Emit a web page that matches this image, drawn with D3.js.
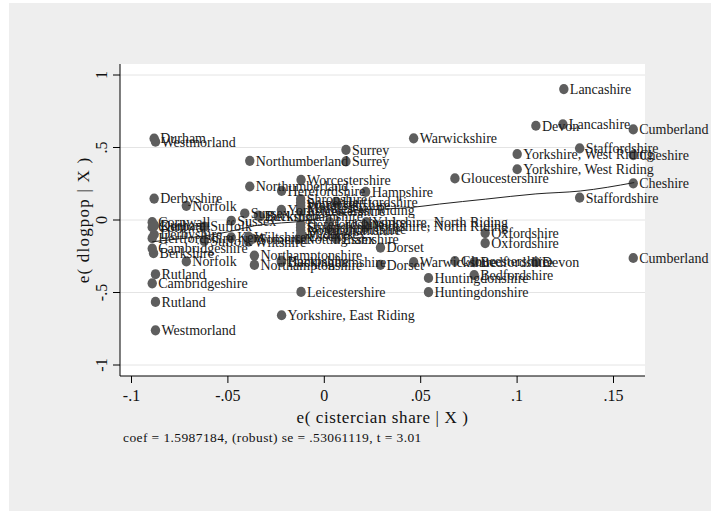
<!DOCTYPE html>
<html><head><meta charset="utf-8">
<script src="https://cdn.jsdelivr.net/npm/d3@7"></script>
<style>body{margin:0;background:#fff}</style></head>
<body>
<svg id="c" width="711" height="511"></svg>
<script>
const names = [
"Lancashire","Devon","Lancashire","Cumberland","Warwickshire","Staffordshire","Yorkshire, West Riding","Cheshire",
"Yorkshire, West Riding","Gloucestershire","Cheshire","Staffordshire","Cumberland","Oxfordshire","Oxfordshire",
"Warwickshire","Gloucestershire","Bedfordshire","Devon","Huntingdonshire","Bedfordshire","Huntingdonshire",
"Dorset","Dorset","Leicestershire","Yorkshire, East Riding","Westmorland","Rutland","Rutland","Cambridgeshire",
"Norfolk","Berkshire","Cambridgeshire","Derbyshire","Norfolk","Durham","Westmorland","Northumberland",
"Northumberland","Surrey","Surrey","Worcestershire","Herefordshire","Hampshire","Derbyshire",
"Cornwall","Durham","Cornwall","Kent","Hertfordshire","Suffolk","Suffolk","Sussex","Kent","Sussex",
"Buckinghamshire","Berkshire","Wiltshire","Wiltshire","Somerset","Northamptonshire","Northamptonshire",
"Hampshire","Buckinghamshire","Yorkshire, East Riding","Shropshire","Somerset","Worcestershire","Middlesex",
"Leicestershire","Shropshire","Nottinghamshire","Middlesex","Herefordshire","Lincolnshire","Lincolnshire",
"Hertfordshire","Essex","Yorkshire, North Riding","Yorkshire, North Riding","Nottinghamshire","Essex"
];
const xs = [
0.1245,0.110,0.124,0.1605,0.0466,0.1327,0.1003,0.1605,
0.1003,0.068,0.1605,0.1327,0.1605,0.0837,0.0837,
0.0466,0.068,0.078,0.110,0.0543,0.078,0.0543,
0.0294,0.0294,-0.0118,-0.0219,-0.0873,-0.0873,-0.0873,-0.089,
-0.0713,-0.0883,-0.089,-0.088,-0.0713,-0.088,-0.0873,-0.0384,
-0.0384,0.0115,0.0115,-0.0118,-0.0219,0.0217,-0.088,
-0.089,-0.088,-0.089,-0.088,-0.089,-0.062,-0.062,-0.048,-0.048,-0.041,
-0.034,-0.033,-0.039,-0.039,-0.037,-0.036,-0.036,
-0.022,-0.022,-0.022,-0.012,-0.012,-0.012,-0.012,
-0.012,-0.012,-0.012,-0.012,-0.012,0.003,0.003,
0.0065,0.0065,0.022,0.022,-0.013,-0.011
];
const ys = [
0.903,0.65,0.66,0.625,0.563,0.494,0.455,0.448,
0.35,0.287,0.253,0.154,-0.262,-0.09,-0.159,
-0.29,-0.283,-0.29,-0.29,-0.40,-0.38,-0.497,
-0.19,-0.309,-0.496,-0.657,-0.761,-0.565,-0.374,-0.437,
-0.286,-0.229,-0.197,0.148,0.098,0.562,0.540,0.408,
0.231,0.484,0.404,0.277,0.201,0.194,-0.10,
-0.015,-0.035,-0.05,-0.04,-0.125,-0.045,-0.145,-0.005,-0.12,0.045,
0.03,0.025,-0.115,-0.15,-0.13,-0.245,-0.31,
-0.28,-0.29,0.07,0.145,0.12,0.10,0.08,
0.06,-0.05,-0.07,-0.10,-0.03,-0.015,-0.065,
0.125,-0.13,-0.015,-0.045,-0.13,-0.11
];
const xTicks = [-0.1,-0.05,0,0.05,0.1,0.15];
const xTickLabels = ["-.1","-.05","0",".05",".1",".15"];
const yTicks = [-1,-0.5,0,0.5,1];
const yTickLabels = ["-1","-.5","0",".5","1"];
const fitX = [-0.089,-0.075,-0.062,-0.049,-0.036,-0.022,-0.012,0.0,0.01,0.022,0.03,0.045,0.06,0.084,0.11,0.133,0.161];
const fitY = [-0.15,-0.13,-0.11,-0.08,-0.04,-0.02,-0.01,0.02,0.05,0.07,0.075,0.086,0.11,0.144,0.18,0.2,0.258];

const svg = d3.select("#c");
const serif = "'Liberation Serif','Times New Roman',serif";
svg.append("rect").attr("x",9).attr("y",3).attr("width",702).attr("height",508).attr("fill","#eeeeee");
const L=120,R=645,T=64,B=376;
svg.append("rect").attr("x",L).attr("y",T).attr("width",R-L).attr("height",B-T).attr("fill","#fff");

const x = d3.scaleLinear().domain([-0.1,0.15]).range([131,613]);
const y = d3.scaleLinear().domain([-1,1]).range([365,75]);

// gridlines
svg.append("g").selectAll("line").data(yTicks).join("line")
  .attr("x1",L).attr("x2",R).attr("y1",d=>y(d)).attr("y2",d=>y(d))
  .attr("stroke","#e4e4e4").attr("stroke-width",1);

// axes
const yAxis = d3.axisLeft(y).tickValues(yTicks).tickSize(7).tickFormat((d,i)=>yTickLabels[i]);
const gy = svg.append("g").attr("transform",`translate(${L},0)`).call(yAxis);
gy.select(".domain").attr("d",`M0,${T}V${B}`);
gy.selectAll(".tick").attr("transform",null);
gy.selectAll(".tick line").attr("y1",d=>y(d)).attr("y2",d=>y(d));
gy.selectAll("text").attr("font-family",serif).attr("font-size",16).attr("fill","#111")
  .attr("x",0).attr("y",0).attr("dy",0).attr("text-anchor","middle").attr("dominant-baseline","middle")
  .attr("transform",d=>`translate(-17,${y(d)}) rotate(-90)`);

const xAxis = d3.axisBottom(x).tickValues(xTicks).tickSize(7).tickFormat((d,i)=>xTickLabels[i]);
const gx = svg.append("g").attr("transform",`translate(0,${B})`).call(xAxis);
gx.select(".domain").attr("d",`M${L},0H${R}`);
gx.selectAll("text").attr("font-family",serif).attr("font-size",16).attr("fill","#111").attr("y",14);
svg.selectAll(".domain").attr("stroke","#000");
svg.selectAll(".tick line").attr("stroke","#000");

// titles
svg.append("text").attr("x",(L+R)/2).attr("y",423).attr("text-anchor","middle")
  .attr("font-family",serif).attr("font-size",17).attr("letter-spacing",0.6).attr("fill","#111").text("e( cistercian share | X )");
svg.append("text").attr("transform",`translate(89,${(T+B)/2}) rotate(-90)`).attr("text-anchor","middle")
  .attr("font-family",serif).attr("font-size",17).attr("letter-spacing",1.2).attr("fill","#111").text("e( dlogpop | X )");
svg.append("text").attr("x",123).attr("y",442).attr("font-family",serif).attr("font-size",13.5).attr("letter-spacing",0.4).attr("fill","#111")
  .text("coef = 1.5987184, (robust) se = .53061119, t = 3.01");

// points
const pts = names.map((n,i)=>({n,x:xs[i],y:ys[i]}));
svg.append("g").selectAll("ellipse").data(pts).join("ellipse")
  .attr("cx",d=>x(d.x)).attr("cy",d=>y(d.y)).attr("rx",4.7).attr("ry",5.1)
  .attr("fill","#5e5e5e");
svg.append("g").selectAll("text").data(pts).join("text")
  .attr("x",d=>x(d.x)+6).attr("y",d=>y(d.y)).attr("dy","0.35em")
  .attr("font-family",serif).attr("font-size",14).attr("fill","#1a1a1a").text(d=>d.n);

// fit line
const line = d3.line().x(d=>x(d[0])).y(d=>y(d[1])).curve(d3.curveMonotoneX);
svg.append("path").datum(fitX.map((v,i)=>[v,fitY[i]])).attr("d",line)
  .attr("fill","none").attr("stroke","#222").attr("stroke-width",1);
</script>
</body></html>
